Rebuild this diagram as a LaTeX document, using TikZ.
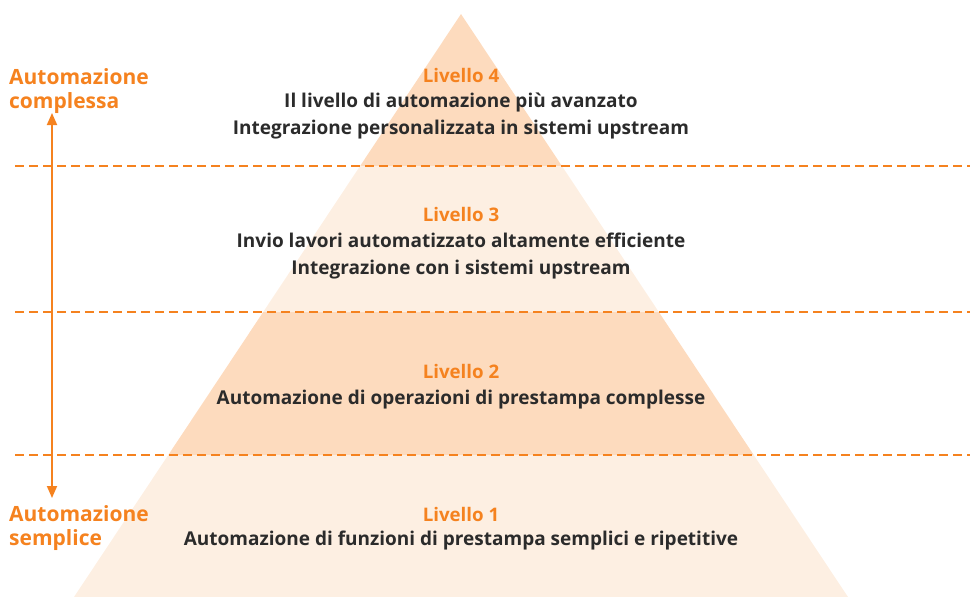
\documentclass[tikz,border=0pt]{standalone}
\usepackage{fontspec}
\setmainfont{Open Sans}
\usetikzlibrary{arrows.meta}
\definecolor{orng}{HTML}{F5821F}
\definecolor{lightp}{HTML}{FDEFE2}
\definecolor{darkp}{HTML}{FDDBBE}
\definecolor{txt}{HTML}{2B2B2B}
\tikzset{
  divider/.style={draw=orng, line width=2.6pt, dash pattern=on 9pt off 5pt},
  lvl/.style={text=orng, font=\fontsize{18.7}{20}\selectfont\bfseries, inner sep=0pt},
  body/.style={text=txt, font=\fontsize{19}{27}\selectfont\bfseries, align=center, inner sep=0pt},
  side/.style={text=orng, font=\fontsize{21}{24}\selectfont\bfseries, align=left, inner sep=0pt, anchor=west},
}
\begin{document}
\begin{tikzpicture}[x=1pt,y=-1pt]
\useasboundingbox (0,0) rectangle (970,597);
\begin{scope}
\clip (461,14) -- (848,597) -- (74,597) -- cycle;
\fill[darkp] (0,0) rectangle (970,166);
\fill[lightp] (0,166) rectangle (970,312);
\fill[darkp] (0,312) rectangle (970,455);
\fill[lightp] (0,455) rectangle (970,597);
\end{scope}
\coordinate (d1a) at (15,166); \coordinate (d1b) at (970,166);
\coordinate (d2a) at (15,312); \coordinate (d2b) at (970,312);
\coordinate (d3a) at (15,455); \coordinate (d3b) at (970,455);
\draw[divider] (d1a) -- (d1b);
\draw[divider] (d2a) -- (d2b);
\draw[divider] (d3a) -- (d3b);
\coordinate (atop) at (52,113);
\coordinate (abot) at (52,498);
\draw[orng, line width=1.8pt, {Triangle[length=12pt,width=10pt]}-{Triangle[length=12pt,width=10pt]}] (atop) -- (abot);
\node[side] (sc) at (9,91) {Automazione\\complessa};
\node[side] (ss) at (9,528) {Automazione\\semplice};
\node[lvl] (l4) at (461,75.5) {Livello 4};
\node[body] (b4) at (461,116) {Il livello di automazione più avanzato\\Integrazione personalizzata in sistemi upstream};
\node[lvl] (l3) at (461,214.5) {Livello 3};
\node[body] (b3) at (461,256) {Invio lavori automatizzato altamente efficiente\\Integrazione con i sistemi upstream};
\node[lvl] (l2) at (461,371.5) {Livello 2};
\node[body] (b2) at (461,399.5) {Automazione di operazioni di prestampa complesse};
\node[lvl] (l1) at (461,514.5) {Livello 1};
\node[body] (b1) at (461,540.5) {Automazione di funzioni di prestampa semplici e ripetitive};
\end{tikzpicture}
\end{document}
